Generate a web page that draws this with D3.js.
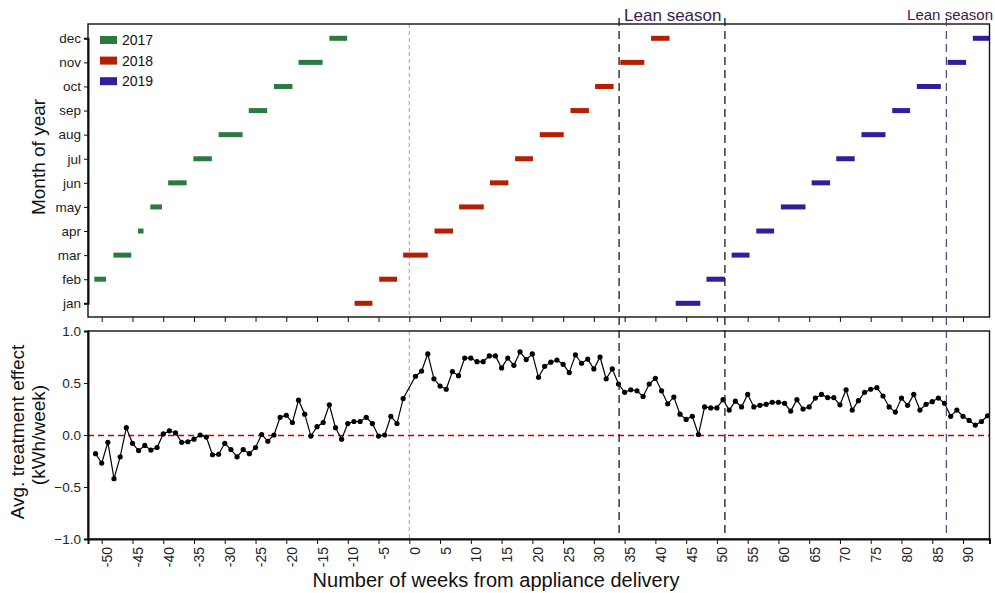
<!DOCTYPE html>
<html>
<head>
<meta charset="utf-8">
<script src="https://cdn.jsdelivr.net/npm/d3@7"></script>
<style>
  html, body { margin: 0; padding: 0; background: #fff; }
  text { font-family: "Liberation Sans", Arial, Helvetica, sans-serif; }
</style>
</head>
<body>
<svg id="chart" width="995" height="593"></svg>
<script>
// ---------------- DATA ----------------
const months = ["jan","feb","mar","apr","may","jun","jul","aug","sep","oct","nov","dec"];
const years = ["2017","2018","2019"];

// month spans (weeks from appliance delivery) per year: [month, startWeek, endWeek]
const spans2017 = [
  ["feb",-51.2,-49.3],["mar",-48.1,-45.2],["apr",-44.1,-43.2],["may",-42.1,-40.2],
  ["jun",-39.2,-36.2],["jul",-35.1,-32.1],["aug",-31.0,-27.1],["sep",-26.1,-23.1],
  ["oct",-22.0,-19.0],["nov",-18.0,-14.1],["dec",-13.0,-10.1]
];
const spans2018 = [
  ["jan",-8.9,-6.0],["feb",-4.9,-2.0],["mar",-1.0,3.0],["apr",4.1,7.1],
  ["may",8.1,12.1],["jun",13.1,16.1],["jul",17.2,20.1],["aug",21.2,25.1],
  ["sep",26.2,29.2],["oct",30.2,33.2],["nov",34.3,38.2],["dec",39.3,42.3]
];
const spans2019 = [
  ["jan",43.3,47.3],["feb",48.3,51.3],["mar",52.4,55.3],["apr",56.4,59.3],
  ["may",60.4,64.4],["jun",65.4,68.4],["jul",69.4,72.4],["aug",73.5,77.4],
  ["sep",78.5,81.4],["oct",82.5,86.4],["nov",87.5,90.5],["dec",91.6,95.5]
];

// weekly average treatment effect (kWh/week); week 0 has no estimate
const weeks = [
  -51,-50,-49,-48,-47,-46,-45,-44,-43,-42,-41,-40,-39,-38,-37,-36,-35,-34,-33,-32,
  -31,-30,-29,-28,-27,-26,-25,-24,-23,-22,-21,-20,-19,-18,-17,-16,-15,-14,-13,-12,
  -11,-10,-9,-8,-7,-6,-5,-4,-3,-2,-1,
  1,2,3,4,5,6,7,8,9,10,11,12,13,14,15,16,17,18,19,20,
  21,22,23,24,25,26,27,28,29,30,31,32,33,34,35,36,37,38,39,40,
  41,42,43,44,45,46,47,48,49,50,51,52,53,54,55,56,57,58,59,60,
  61,62,63,64,65,66,67,68,69,70,71,72,73,74,75,76,77,78,79,80,
  81,82,83,84,85,86,87,88,89,90,91,92,93,94
];
const effects = [
  -0.18,-0.27,-0.07,-0.42,-0.21,0.07,-0.08,-0.15,-0.10,-0.145,-0.12,0.01,0.04,0.02,-0.07,-0.065,-0.04,0.0,-0.02,-0.19,
  -0.185,-0.08,-0.14,-0.21,-0.14,-0.18,-0.12,0.005,-0.06,0.0,0.17,0.19,0.12,0.335,0.20,-0.01,0.08,0.12,0.29,0.07,
  -0.04,0.11,0.13,0.13,0.17,0.11,-0.01,0.0,0.18,0.11,0.35,
  0.565,0.615,0.78,0.54,0.47,0.44,0.61,0.57,0.74,0.74,0.705,0.705,0.76,0.76,0.645,0.74,0.67,0.80,0.725,0.78,
  0.555,0.66,0.70,0.72,0.68,0.60,0.77,0.69,0.73,0.635,0.75,0.54,0.635,0.49,0.41,0.435,0.425,0.37,0.49,0.545,
  0.425,0.30,0.365,0.20,0.15,0.18,0.005,0.27,0.26,0.26,0.34,0.24,0.325,0.27,0.39,0.27,0.285,0.295,0.315,0.315,
  0.305,0.23,0.34,0.25,0.27,0.355,0.39,0.36,0.36,0.29,0.435,0.24,0.33,0.41,0.44,0.455,0.375,0.27,0.22,0.355,
  0.285,0.39,0.24,0.295,0.32,0.355,0.305,0.18,0.24,0.18,0.14,0.095,0.13,0.185
];

const xTicks = d3.range(-50, 91, 5);
const yTicks = [-1.0, -0.5, 0.0, 0.5, 1.0];
const deliveryWeek = 0;
const leanSeasonWeeks = [34.1, 51.3, 87.3];

// ---------------- STYLE ----------------
const yearColors = {"2017":"#2b7a3f","2018":"#b51e03","2019":"#321d9e"};
const W = 995, H = 593;
const left = 88, right = 989.5;
const top1 = 24, bot1 = 317;
const top2 = 331, bot2 = 539;

const svg = d3.select("#chart");
svg.append("rect").attr("width", W).attr("height", H).attr("fill", "#fff");

const x = d3.scaleLinear().domain([-52.23, 94.31]).range([left, right]);
const yMonth = d3.scalePoint().domain(months).range([303.3, 38.3]);
const yEff = d3.scaleLinear().domain([-1, 1]).range([bot2, top2]);

const defs = svg.append("defs");
defs.append("clipPath").attr("id","clip1").append("rect")
  .attr("x", left).attr("y", top1).attr("width", right-left).attr("height", bot1-top1);
defs.append("clipPath").attr("id","clip2").append("rect")
  .attr("x", left).attr("y", top2).attr("width", right-left).attr("height", bot2-top2);

// ---------------- TOP PANEL ----------------
const p1 = svg.append("g").attr("clip-path","url(#clip1)");
p1.append("line")
  .attr("x1", x(deliveryWeek)).attr("x2", x(deliveryWeek))
  .attr("y1", top1).attr("y2", bot1)
  .attr("stroke", "#a0a0a0").attr("stroke-width", 1).attr("stroke-dasharray", "4,3");

const allSpans = [
  {year:"2017", spans:spans2017},
  {year:"2018", spans:spans2018},
  {year:"2019", spans:spans2019}
];
allSpans.forEach(ys => {
  p1.selectAll(null).data(ys.spans).enter().append("rect")
    .attr("x", d => x(d[1]))
    .attr("width", d => x(d[2]) - x(d[1]))
    .attr("y", d => yMonth(d[0]) - 2.5)
    .attr("height", 5)
    .attr("fill", yearColors[ys.year]);
});

// legend
const lg = svg.append("g");
years.forEach((yr, i) => {
  const yy = 40 + i * 20.6;
  lg.append("rect").attr("x", 100).attr("y", yy - 4).attr("width", 17).attr("height", 8)
    .attr("fill", yearColors[yr]);
  lg.append("text").attr("x", 122).attr("y", yy + 5).attr("font-size", 14).attr("fill", "#111").text(yr);
});

// axes top panel
const ax1y = svg.append("g").attr("transform", `translate(${left},0)`)
  .call(d3.axisLeft(yMonth).tickSize(4).tickPadding(3));
const ax1x = svg.append("g").attr("transform", `translate(0,${bot1})`)
  .call(d3.axisBottom(x).tickValues(xTicks).tickSize(5).tickFormat(""));
svg.append("rect").attr("x", left).attr("y", top1).attr("width", right-left).attr("height", bot1-top1)
  .attr("fill", "none").attr("stroke", "#111").attr("stroke-width", 1.4);

// ---------------- BOTTOM PANEL ----------------
const p2 = svg.append("g").attr("clip-path","url(#clip2)");
p2.append("line")
  .attr("x1", x(deliveryWeek)).attr("x2", x(deliveryWeek))
  .attr("y1", top2).attr("y2", bot2)
  .attr("stroke", "#a0a0a0").attr("stroke-width", 1).attr("stroke-dasharray", "4,3");
p2.append("line")
  .attr("x1", left).attr("x2", right).attr("y1", Math.round(yEff(0)) + 0.5).attr("y2", Math.round(yEff(0)) + 0.5)
  .attr("stroke", "#cc0000").attr("stroke-width", 1.3).attr("stroke-dasharray", "6,4");

const series = weeks.map((w, i) => ({w: w, v: effects[i]}));
p2.append("path").datum(series)
  .attr("d", d3.line().x(d => x(d.w)).y(d => yEff(d.v)))
  .attr("fill", "none").attr("stroke", "#000").attr("stroke-width", 1.2);
p2.selectAll("circle").data(series).enter().append("circle")
  .attr("cx", d => x(d.w)).attr("cy", d => yEff(d.v)).attr("r", 2.6).attr("fill", "#000");

const ax2y = svg.append("g").attr("transform", `translate(${left},0)`)
  .call(d3.axisLeft(yEff).tickValues(yTicks).tickFormat(d3.format(".1f")).tickSize(4).tickPadding(3));
const ax2x = svg.append("g").attr("transform", `translate(0,${bot2})`)
  .call(d3.axisBottom(x).tickValues(xTicks).tickSize(5).tickFormat(d => d));
svg.append("rect").attr("x", left).attr("y", top2).attr("width", right-left).attr("height", bot2-top2)
  .attr("fill", "none").attr("stroke", "#111").attr("stroke-width", 1.4);

// rotated x tick labels
ax2x.selectAll(".tick text")
  .attr("transform", "rotate(-90)")
  .attr("text-anchor", "end")
  .attr("x", -8).attr("y", 0).attr("dy", "10px");

[ax1y, ax1x, ax2y, ax2x].forEach(a => {
  a.select(".domain").attr("stroke", "#111").attr("stroke-width", 2);
  a.selectAll(".tick line").attr("stroke", "#111").attr("stroke-width", 1);
  a.selectAll(".tick text").attr("font-size", 13.5).attr("fill", "#222")
    .style("font-family", '"Liberation Sans", Arial, sans-serif');
});
ax2x.selectAll(".tick text").attr("font-size", 14);
ax1x.select(".domain").remove();
ax2x.select(".domain").attr("stroke-width", 2);

// ---------------- LEAN SEASON LINES ----------------
leanSeasonWeeks.forEach((w, i) => {
  svg.append("line")
    .attr("x1", x(w)).attr("x2", x(w)).attr("y1", 18).attr("y2", bot2)
    .attr("stroke", i < 2 ? "#1a1a1a" : "#5b3f74")
    .attr("stroke-width", i < 2 ? 1.3 : 1.2)
    .attr("stroke-dasharray", "8,5");
});
svg.append("text").attr("x", x(leanSeasonWeeks[0]) + 5).attr("y", 21)
  .attr("font-size", 17).attr("fill", "#3a2050").text("Lean season");
svg.append("text").attr("x", 993).attr("y", 20).attr("text-anchor", "end")
  .attr("font-size", 15).attr("fill", "#3a2050").text("Lean season");

// ---------------- TITLES ----------------
svg.append("text").attr("transform", "translate(45,157) rotate(-90)")
  .attr("text-anchor", "middle").attr("font-size", 19).attr("fill", "#111").text("Month of year");
svg.append("text").attr("transform", "translate(24,432) rotate(-90)")
  .attr("text-anchor", "middle").attr("font-size", 19).attr("fill", "#111").text("Avg. treatment effect");
svg.append("text").attr("transform", "translate(45,435) rotate(-90)")
  .attr("text-anchor", "middle").attr("font-size", 19).attr("fill", "#111").text("(kWh/week)");
svg.append("text").attr("x", 496).attr("y", 587)
  .attr("text-anchor", "middle").attr("font-size", 20).attr("fill", "#111")
  .text("Number of weeks from appliance delivery");
</script>
</body>
</html>
